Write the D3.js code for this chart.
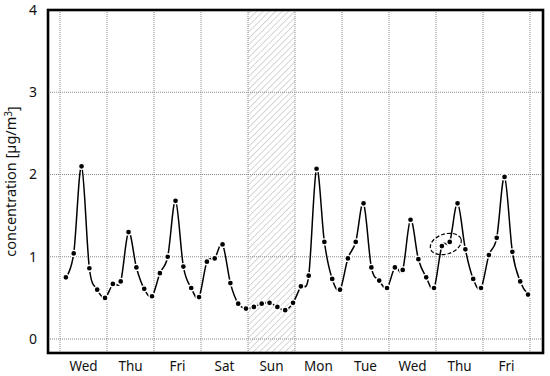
<!DOCTYPE html>
<html lang="en">
<head>
<meta charset="UTF-8">
<title>Concentration by day</title>
<script src="https://d3js.org/d3.v7.min.js"></script>
<style>
  body { margin: 0; background: white; font-family: "Noto Sans", sans-serif; }
  svg text { fill: #111; }
</style>
</head>
<body>
<div id="chart"></div>
<script>
// day labels, one per day (hatched day = Sunday)
var days = ["Wed", "Thu", "Fri", "Sat", "Sun", "Mon", "Tue", "Wed", "Thu", "Fri"];
var hours = [3, 7, 11, 15, 19, 23];   // sample times within each day
var yTicks = [0, 1, 2, 3, 4];
var weekendDay = 4;
var circled = [48, 49];              // the two circled points (Thu)

// concentration [µg/m3], 6 values per day
var conc = [
  0.75, 1.04, 2.10, 0.86, 0.60, 0.50,
  0.67, 0.70, 1.30, 0.87, 0.61, 0.52,
  0.80, 1.00, 1.68, 0.88, 0.62, 0.51,
  0.94, 0.98, 1.15, 0.68, 0.43, 0.37,
  0.39, 0.43, 0.44, 0.39, 0.35, 0.44,
  0.64, 0.77, 2.07, 1.18, 0.73, 0.60,
  0.98, 1.18, 1.65, 0.87, 0.71, 0.62,
  0.87, 0.84, 1.45, 0.97, 0.75, 0.62,
  1.13, 1.18, 1.65, 1.09, 0.73, 0.62,
  1.02, 1.23, 1.97, 1.06, 0.70, 0.54
];

var width = 550, height = 376;
var data = conc.map(function(v, i) {
  return { t: Math.floor(i / hours.length) + hours[i % hours.length] / 24, v: v };
});

var x = d3.scaleLinear().domain([0, days.length]).range([60, 530]);
var y = d3.scaleLinear().domain([0, 4]).range([339, 10]);
var xMin = -0.255, xMax = 10.277, yMin = -0.17;

var svg = d3.select("#chart").append("svg")
  .attr("width", width).attr("height", height);

// hatch pattern for the weekend band
var defs = svg.append("defs");
var pat = defs.append("pattern")
  .attr("id", "hatch").attr("patternUnits", "userSpaceOnUse")
  .attr("width", 4.5).attr("height", 4.5)
  .attr("patternTransform", "rotate(45)");
pat.append("line").attr("x1", 0).attr("y1", 0).attr("x2", 0).attr("y2", 4.5)
  .attr("stroke", "#adadad").attr("stroke-width", 1);

svg.append("rect")
  .attr("x", x(weekendDay)).attr("y", y(4))
  .attr("width", x(weekendDay + 1) - x(weekendDay))
  .attr("height", y(yMin) - y(4))
  .attr("fill", "url(#hatch)");

// dotted grid
svg.append("g").selectAll("line.h")
  .data(yTicks.slice(0, -1)).enter().append("line")
  .attr("x1", x(xMin)).attr("x2", x(xMax))
  .attr("y1", function(d) { return y(d); }).attr("y2", function(d) { return y(d); })
  .attr("stroke", "#888").attr("stroke-width", 1).attr("stroke-dasharray", "1,1");

svg.append("g").selectAll("line.v")
  .data(d3.range(days.length + 1)).enter().append("line")
  .attr("x1", function(d) { return x(d); }).attr("x2", function(d) { return x(d); })
  .attr("y1", y(4)).attr("y2", y(yMin))
  .attr("stroke", "#888").attr("stroke-width", 1).attr("stroke-dasharray", "1,1");

// y tick labels
svg.append("g").selectAll("text")
  .data(yTicks).enter().append("text")
  .attr("x", 33).attr("y", function(d) { return y(d); })
  .attr("dy", "0.35em").attr("text-anchor", "middle")
  .style("font-size", "14px")
  .text(function(d) { return d; });

// day labels
svg.append("g").selectAll("text")
  .data(days).enter().append("text")
  .attr("x", function(d, i) { return x(i + 0.5); })
  .attr("y", 371).attr("text-anchor", "middle")
  .style("font-size", "13.5px")
  .text(function(d) { return d; });

// y axis title
var yt = svg.append("text")
  .attr("transform", "translate(16," + ((y(4) + y(yMin)) / 2) + ") rotate(-90)")
  .attr("text-anchor", "middle")
  .style("font-size", "14.5px");
yt.append("tspan").text("concentration [µg/m");
yt.append("tspan").attr("dy", "-0.45em").style("font-size", "10px").text("3");
yt.append("tspan").attr("dy", "0.45em").text("]");

// line
var line = d3.line()
  .x(function(d) { return x(d.t); })
  .y(function(d) { return y(d.v); })
  .curve(d3.curveCardinal.tension(0));

svg.append("path").datum(data)
  .attr("d", line)
  .attr("fill", "none").attr("stroke", "black").attr("stroke-width", 1.5);

svg.append("g").selectAll("circle")
  .data(data).enter().append("circle")
  .attr("cx", function(d) { return x(d.t); })
  .attr("cy", function(d) { return y(d.v); })
  .attr("r", 3)
  .attr("fill", "black").attr("stroke", "white").attr("stroke-width", 1.3);

// dashed ellipse around the two circled points
var p0 = data[circled[0]], p1 = data[circled[1]];
var cx = (x(p0.t) + x(p1.t)) / 2, cy = (y(p0.v) + y(p1.v)) / 2;
svg.append("ellipse")
  .attr("transform", "translate(" + cx + "," + cy + ") rotate(-18)")
  .attr("rx", 16).attr("ry", 10)
  .attr("fill", "none").attr("stroke", "black").attr("stroke-width", 1.2)
  .attr("stroke-dasharray", "4,2");

// frame
svg.append("rect")
  .attr("x", x(xMin)).attr("y", y(4))
  .attr("width", x(xMax) - x(xMin)).attr("height", y(yMin) - y(4))
  .attr("fill", "none").attr("stroke", "black").attr("stroke-width", 2.6);

</script>
</body>
</html>
